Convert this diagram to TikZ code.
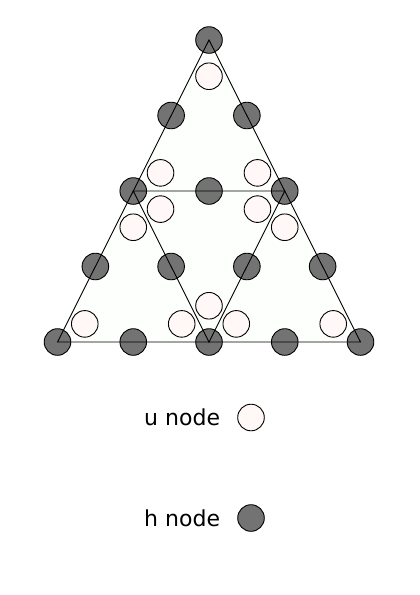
\documentclass[tikz,border=0pt]{standalone}
\usepackage{fontspec}
\newfontfamily\keyfont{DejaVu Sans}
\usepackage{tikz}
\usetikzlibrary{positioning,calc}
\usepackage{xcolor}
\definecolor{hnodec}{RGB}{115,115,115}
\definecolor{unodec}{RGB}{255,248,246}
\definecolor{trifillc}{RGB}{253,255,253}
\tikzset{
  dot/.style={circle, draw=black, line width=0.9pt, minimum size=26.6pt, inner sep=0pt},
  hnode/.style={dot, fill=hnodec},
  unode/.style={dot, fill=unodec},
  edge/.style={draw=black, line width=0.9pt, line join=miter},
  keylabel/.style={font=\keyfont\fontsize{22}{26}\selectfont, inner sep=3pt}
}

\begin{document}
\begin{tikzpicture}[x=1pt, y=-1pt]
  \useasboundingbox (0,0) rectangle (420,595);

  % outer corners and the mid points of the big triangle
  \coordinate (A) at (209,40);
  \coordinate (B) at (57.5,342);
  \coordinate (C) at (360.5,342);
  \coordinate (ab) at ($(A)!0.5!(B)$);
  \coordinate (ac) at ($(A)!0.5!(C)$);
  \coordinate (bc) at ($(B)!0.5!(C)$);

  \fill[trifillc] (A) -- (B) -- (C) -- cycle;

  % h nodes: corners of the three small triangles and the mid points of their sides
  \foreach \p/\q [count=\i] in {A/A, B/B, C/C, ab/ab, ac/ac, bc/bc,
                                 A/ab, A/ac, ab/ac, B/ab, B/bc, ab/bc, C/ac, C/bc, ac/bc}
    \node[hnode] (h\i) at ($(\p)!0.5!(\q)$) {};

  % u nodes: one near each corner of the four triangles
  \foreach \p/\q/\r [count=\k] in {A/ab/ac, ab/B/bc, ac/bc/C, ab/ac/bc} {
    \coordinate (g\k) at (barycentric cs:\p=1,\q=1,\r=1);
    \node[unode] (u\k a) at ($(\p)!0.36!(g\k)$) {};
    \node[unode] (u\k b) at ($(\q)!0.36!(g\k)$) {};
    \node[unode] (u\k c) at ($(\r)!0.36!(g\k)$) {};
  }

  \draw[edge] (A) -- (B) -- (C) -- cycle;
  \draw[edge] (ab) -- (ac) -- (bc) -- cycle;

  % key
  \node[unode] (ukey) at (251,417.5) {};
  \node[keylabel, left=14pt of ukey] (ulabel) {u node};
  \node[hnode] (hkey) at (251,518) {};
  \node[keylabel, left=14pt of hkey] (hlabel) {h node};
\end{tikzpicture}
\end{document}
